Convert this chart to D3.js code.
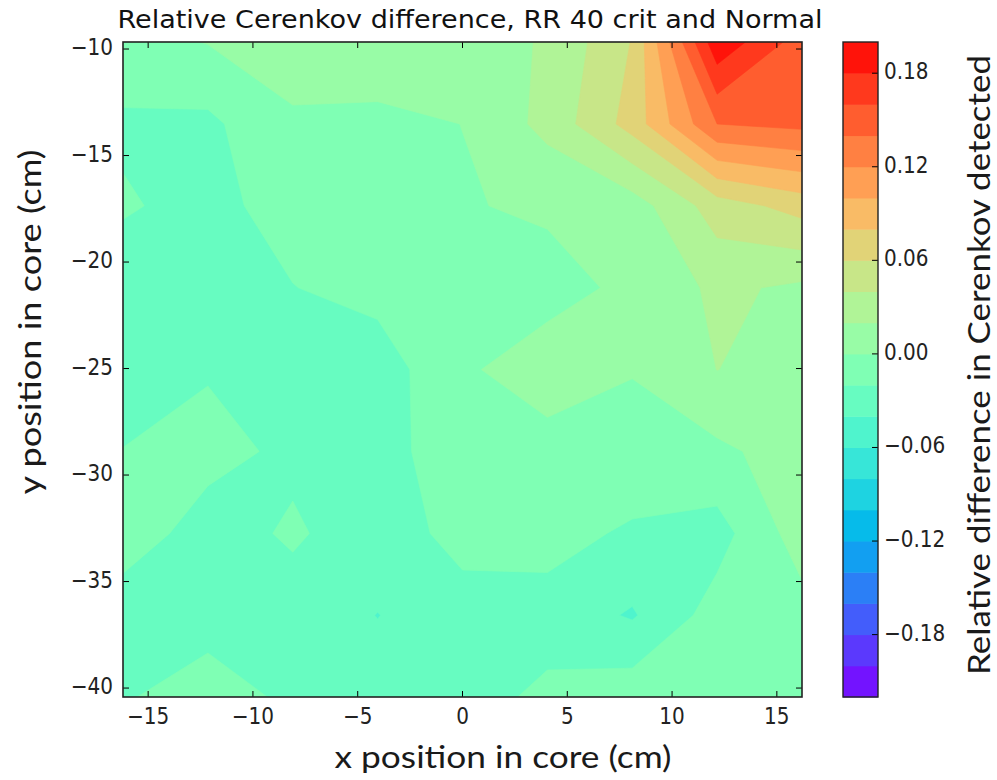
<!DOCTYPE html>
<html><head><meta charset="utf-8">
<script src="https://cdn.jsdelivr.net/npm/d3@7"></script>
<style>body{margin:0;background:#fff}svg{display:block}</style>
</head><body>
<svg id="chart" width="997" height="780"></svg>
<script>
// ---------------- data ----------------
const xNodes = [-16.2, -12.15, -8.1, -4.05, 0, 4.05, 8.1, 12.15, 16.2];
const yNodes = [-40.42, -36.58, -32.74, -28.89, -25.05, -21.21, -17.36, -13.52, -9.67];
// rows: bottom (y=-40.42) to top (y=-9.67); columns: x from -16.2 to 16.2
const row0 = [-0.0214, -0.013, -0.023, -0.030, -0.028, -0.0157, -0.008, -0.008, -0.006];
const row1 = [-0.027, -0.026, -0.0257, -0.0405, -0.0253, -0.0287, -0.042, -0.0114, -0.0075];
const row2 = [-0.0133, -0.0255, -0.0183, -0.027, -0.0157, -0.012, -0.0234, -0.028, 0.010];
const row3 = [-0.0195, -0.016, -0.0226, -0.030, -0.005, -0.005, -0.004, -0.004, 0.0093];
const row4 = [-0.030, -0.021, -0.030, -0.031, -0.002, 0.007, 0.0005, 0.0202, 0.012];
const row5 = [-0.030, -0.030, -0.0205, -0.013, -0.006, -0.005, 0.003, 0.0243, 0.016];
const row6 = [-0.018, -0.026, -0.012, -0.008, -0.0009, 0.002, 0.010, 0.050, 0.068];
const row7 = [-0.023, -0.0245, -0.0015, -0.003, 0.0001, 0.026, 0.068, 0.140, 0.145];
const row8 = [-0.008, 0.0008, 0.005, 0.008, 0.015, 0.021, 0.061, 0.195, 0.150];
const gridRows = [row0, row1, row2, row3, row4, row5, row6, row7, row8];
const levels = [-0.22,-0.20,-0.18,-0.16,-0.14,-0.12,-0.10,-0.08,-0.06,-0.04,-0.02,0.00,
                0.02,0.04,0.06,0.08,0.10,0.12,0.14,0.16,0.18,0.20];
const xTicks = [-15, -10, -5, 0, 5, 10, 15];
const yTicks = [-40, -35, -30, -25, -20, -15, -10];
const cbTicks = [-0.18, -0.12, -0.06, 0.00, 0.06, 0.12, 0.18];
const titleText = "Relative Cerenkov difference, RR 40 crit and Normal";
const xLabel = "x position in core (cm)";
const yLabel = "y position in core (cm)";
const cbLabel = "Relative difference in Cerenkov detected";

// ---------------- helpers ----------------
function rainbow(t) {
  const c = v => Math.max(0, Math.min(1, v));
  const r = c(Math.abs(2 * t - 0.5)), g = c(Math.sin(Math.PI * t)), b = c(Math.cos(Math.PI * t / 2));
  return d3.rgb(Math.round(r * 255), Math.round(g * 255), Math.round(b * 255)).formatHex();
}
const vmin = levels[0], vmax = levels[levels.length - 1];
const bandColor = lo => rainbow(((lo + 0.01) - vmin) / (vmax - vmin));

const svg = d3.select("#chart");
const L = 123, R = 802, T = 42, B = 697;
const x = d3.scaleLinear().domain([xNodes[0], xNodes[xNodes.length - 1]]).range([L, R]);
const y = d3.scaleLinear().domain([yNodes[0], yNodes[yNodes.length - 1]]).range([B, T]);

const nx = xNodes.length, ny = yNodes.length;
const xi = d3.scaleLinear().domain(d3.range(nx).map(i => i + 0.5)).range(xNodes);
const yi = d3.scaleLinear().domain(d3.range(ny).map(i => i + 0.5)).range(yNodes);
const proj = d3.geoTransform({
  point: function(px, py) { this.stream.point(x(xi(px)), y(yi(py))); }
});
const path = d3.geoPath(proj);

svg.append("defs").append("clipPath").attr("id", "plotclip")
  .append("rect").attr("x", L).attr("y", T).attr("width", R - L).attr("height", B - T);

const flat = gridRows.flat();
const contours = d3.contours().size([nx, ny]).thresholds(levels.slice(0, -1))(flat);
svg.append("g").attr("clip-path", "url(#plotclip)")
  .selectAll("path").data(contours).join("path")
  .attr("d", path)
  .attr("fill", d => bandColor(d.value))
  .attr("stroke", d => bandColor(d.value))
  .attr("stroke-width", 0.6);

function fitText(sel, factor) {
  sel.each(function() {
    const w = this.getComputedTextLength();
    d3.select(this).attr("textLength", w * factor).attr("lengthAdjust", "spacingAndGlyphs");
  });
}
const fmtTick = v => (v < 0 ? "\u2212" : "") + Math.abs(v);
const fmtCb = v => (v < 0 ? "\u2212" : "") + Math.abs(v).toFixed(2);

// ---------------- frame & ticks ----------------
const tk = 6;
const tickG = svg.append("g").attr("stroke", "#000").attr("stroke-width", 1);
xTicks.forEach(v => {
  tickG.append("line").attr("x1", x(v)).attr("x2", x(v)).attr("y1", B).attr("y2", B - tk);
  tickG.append("line").attr("x1", x(v)).attr("x2", x(v)).attr("y1", T).attr("y2", T + tk);
});
yTicks.forEach(v => {
  tickG.append("line").attr("x1", L).attr("x2", L + tk).attr("y1", y(v)).attr("y2", y(v));
  tickG.append("line").attr("x1", R).attr("x2", R - tk).attr("y1", y(v)).attr("y2", y(v));
});
svg.append("rect").attr("x", L).attr("y", T).attr("width", R - L).attr("height", B - T)
  .attr("fill", "none").attr("stroke", "#222").attr("stroke-width", 1.6);

const tickFont = "'DejaVu Sans', sans-serif";
svg.append("g").selectAll("text").data(xTicks).join("text")
  .attr("x", d => x(d)).attr("y", 724).attr("text-anchor", "middle")
  .attr("font-family", tickFont).attr("font-size", 23).attr("fill", "#222")
  .text(fmtTick).call(fitText, 0.87);
svg.append("g").selectAll("text").data(yTicks).join("text")
  .attr("x", 113).attr("y", d => y(d) + 6).attr("text-anchor", "end")
  .attr("font-family", tickFont).attr("font-size", 23).attr("fill", "#222")
  .text(fmtTick).call(fitText, 0.87);

// ---------------- colorbar ----------------
const cbL = 843, cbR = 878;
const cb = d3.scaleLinear().domain([vmin, vmax]).range([B, T]);
const cbG = svg.append("g");
cbG.selectAll("rect").data(levels.slice(0, -1)).join("rect")
  .attr("x", cbL).attr("width", cbR - cbL)
  .attr("y", (d, i) => cb(levels[i + 1]))
  .attr("height", (d, i) => cb(levels[i]) - cb(levels[i + 1]) + 0.5)
  .attr("fill", d => bandColor(d));
cbTicks.forEach(v => {
  cbG.append("line").attr("x1", cbR).attr("x2", cbR - tk).attr("y1", cb(v)).attr("y2", cb(v))
    .attr("stroke", "#000").attr("stroke-width", 1);
});
cbG.append("rect").attr("x", cbL).attr("y", T).attr("width", cbR - cbL).attr("height", B - T)
  .attr("fill", "none").attr("stroke", "#222").attr("stroke-width", 1.4);
cbG.selectAll("text").data(cbTicks).join("text")
  .attr("x", 884).attr("y", d => cb(d) + 6)
  .attr("font-family", tickFont).attr("font-size", 23).attr("fill", "#222")
  .text(fmtCb).call(fitText, 0.87);

// ---------------- titles ----------------
svg.append("text").attr("x", 470).attr("y", 28).attr("text-anchor", "middle")
  .attr("font-family", tickFont).attr("font-size", 24).attr("fill", "#111")
  .text(titleText).attr("textLength", 705).attr("lengthAdjust", "spacingAndGlyphs");

const labFont = "Lato, 'Open Sans', sans-serif";
svg.append("text").attr("x", 503).attr("y", 768).attr("text-anchor", "middle")
  .attr("font-family", labFont).attr("font-size", 30).attr("fill", "#1a1a1a")
  .text(xLabel).attr("textLength", 337).attr("lengthAdjust", "spacingAndGlyphs");
svg.append("text").attr("transform", "translate(41,322) rotate(-90)").attr("text-anchor", "middle")
  .attr("font-family", labFont).attr("font-size", 30).attr("fill", "#1a1a1a")
  .text(yLabel).attr("textLength", 345).attr("lengthAdjust", "spacingAndGlyphs");
svg.append("text").attr("transform", "translate(990,365) rotate(-90)").attr("text-anchor", "middle")
  .attr("font-family", labFont).attr("font-size", 30).attr("fill", "#1a1a1a")
  .text(cbLabel).attr("textLength", 620).attr("lengthAdjust", "spacingAndGlyphs");
</script>
</body></html>
